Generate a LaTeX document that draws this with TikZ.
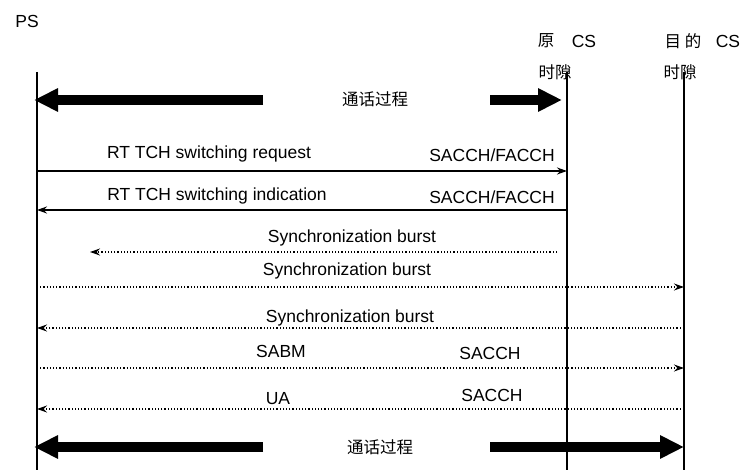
\documentclass[tikz,border=0pt]{standalone}
\usepackage{fontspec}
\setmainfont{Liberation Sans}
\newfontfamily\cjk{Noto Sans CJK SC}
\usetikzlibrary{arrows.meta}
\begin{document}
\begin{tikzpicture}[x=1pt,y=-1pt,
 lbl/.style={font=\fontsize{17.5}{19}\selectfont,inner sep=0pt},
 cj/.style={font=\cjk\fontsize{16.5}{19}\selectfont,inner sep=0pt},
 life/.style={line width=1.3pt},
 msg/.style={line width=1.8pt,-{Stealth[length=10pt,width=7pt]}},
 dmsg/.style={line width=1.2pt,dotted,-{Stealth[length=10pt,width=7pt]}},
 fat/.style={line width=10pt,-{Triangle[length=24pt,width=22pt]}}]
\useasboundingbox (0,0) rectangle (756,470);
% lifelines
\coordinate (ps0) at (37,72); \coordinate (ps1) at (37,470);
\coordinate (o0) at (567,72); \coordinate (o1) at (567,470);
\coordinate (d0) at (684,72); \coordinate (d1) at (684,470);
\draw[life] (ps0)--(ps1); \draw[life] (o0)--(o1); \draw[life] (d0)--(d1);
\node[lbl] (ps) at (27,21) {PS};
\node[cj] (yuan) at (546,41) {原};
\node[lbl] (ocs) at (584,41) {CS};
\node[cj] (sx1) at (555,72) {时隙};
\node[cj] (mudi) at (683,41) {目\ 的};
\node[lbl] (dcs) at (728,41) {CS};
\node[cj] (sx2) at (680,72) {时隙};
% top fat arrows
\coordinate (a1) at (263,100); \coordinate (a2) at (34,100);
\coordinate (a3) at (490,100); \coordinate (a4) at (562,100);
\draw[fat] (a1)--(a2); \draw[fat] (a3)--(a4);
\node[cj] (t1) at (375,99) {通话过程};
% messages
\coordinate (m1a) at (37,171); \coordinate (m1b) at (567,171);
\draw[msg] (m1a)--(m1b);
\node[lbl] (l1) at (209,154) {RT TCH switching request};
\node[lbl] (s1) at (492,155) {SACCH/FACCH};
\coordinate (m2a) at (567,210); \coordinate (m2b) at (37,210);
\draw[msg] (m2a)--(m2b);
\node[lbl] (l2) at (217,196) {RT TCH switching indication};
\node[lbl] (s2) at (492,197) {SACCH/FACCH};
\coordinate (m3a) at (557,252); \coordinate (m3b) at (90,252);
\draw[dmsg] (m3a)--(m3b);
\node[lbl] (l3) at (352,238) {Synchronization burst};
\coordinate (m4a) at (37,287); \coordinate (m4b) at (684,287);
\draw[dmsg] (m4a)--(m4b);
\node[lbl] (l4) at (347,271) {Synchronization burst};
\coordinate (m5a) at (684,328); \coordinate (m5b) at (37,328);
\draw[dmsg] (m5a)--(m5b);
\node[lbl] (l5) at (350,318) {Synchronization burst};
\coordinate (m6a) at (37,368); \coordinate (m6b) at (684,368);
\draw[dmsg] (m6a)--(m6b);
\node[lbl] (l6) at (281,351) {SABM};
\node[lbl] (s6) at (490,353) {SACCH};
\coordinate (m7a) at (684,409); \coordinate (m7b) at (37,409);
\draw[dmsg] (m7a)--(m7b);
\node[lbl] (l7) at (278,399) {UA};
\node[lbl] (s7) at (492,395) {SACCH};
% bottom fat arrows
\coordinate (b1) at (263,447); \coordinate (b2) at (34,447);
\coordinate (b3) at (490,447); \coordinate (b4) at (684,447);
\draw[fat] (b1)--(b2); \draw[fat] (b3)--(b4);
\node[cj] (t2) at (380,447) {通话过程};
\end{tikzpicture}
\end{document}
